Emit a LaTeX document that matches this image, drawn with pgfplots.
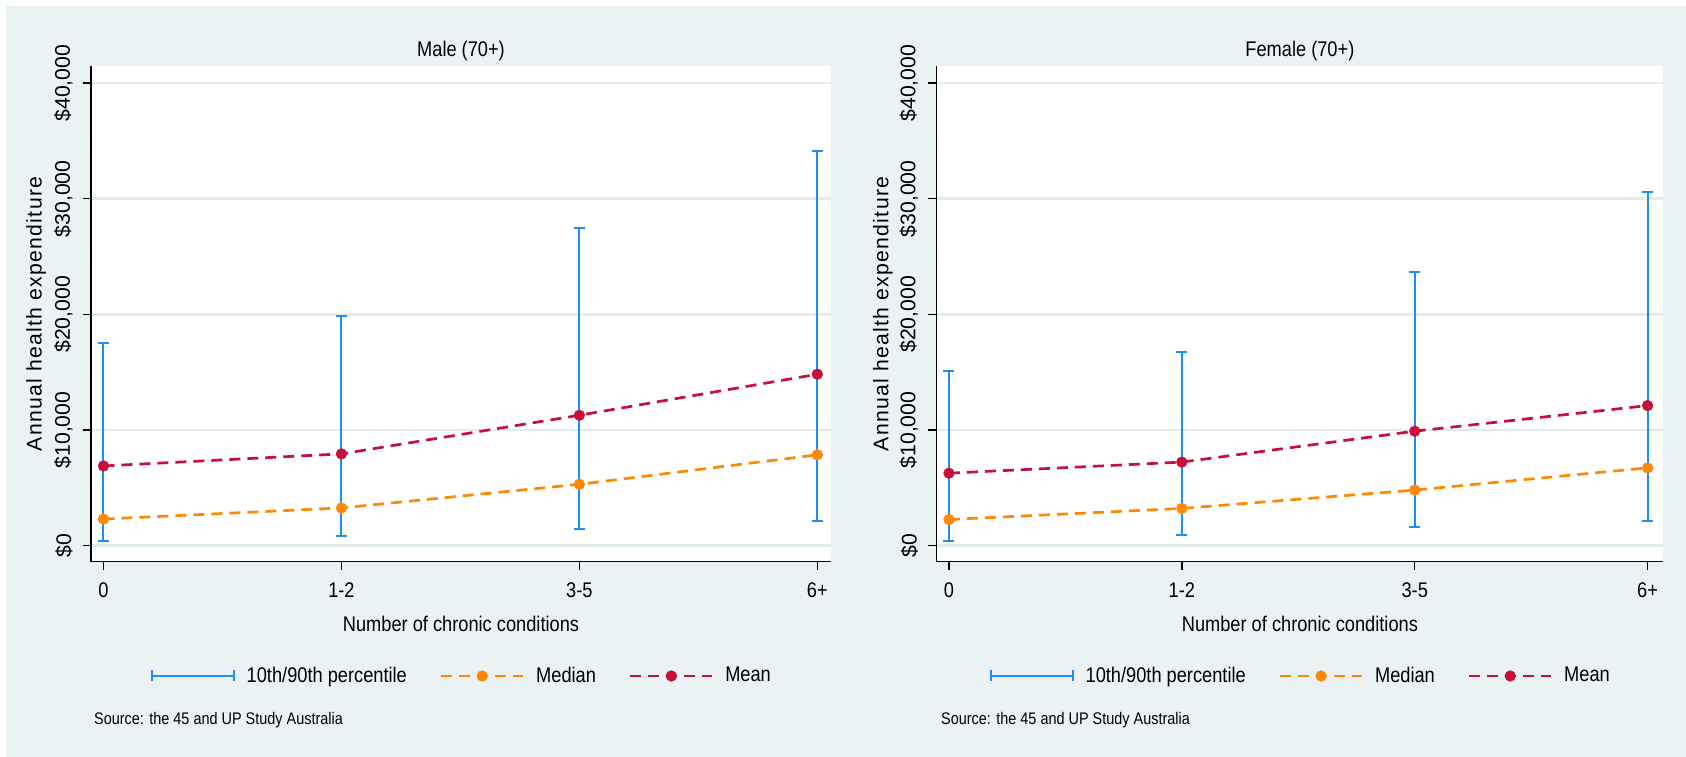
\documentclass[border=0pt]{standalone}
\usepackage{fontspec}
\setmainfont{Liberation Sans}[FakeStretch=0.86]
\newfontfamily\tickfont{Liberation Sans}
\newfontfamily\spacedfont{Liberation Sans}[LetterSpace=6]
\usepackage{pgfplots}
\pgfplotsset{compat=1.18}
\definecolor{bgc}{RGB}{234,242,243}
\definecolor{gridc}{RGB}{226,236,238}
\definecolor{bluec}{RGB}{28,142,250}
\definecolor{orangec}{RGB}{255,136,0}
\definecolor{redc}{RGB}{198,16,58}
\pgfplotsset{
  panel/.style={
    scale only axis, height=247.7bp, ymin=-1384, ymax=41462,
    axis x line*=bottom, axis y line*=left,
    axis line style={line width=0.75bp, black},
    tick align=outside, major tick length=4bp,
    tick style={line width=0.75bp, black},
    xtick={0,1,2,3}, xticklabels={0,1-2,3-5,6+},
    ytick={0,10000,20000,30000,40000}, scaled y ticks=false,
    yticklabels={\$0,{\$10,000},{\$20,000},{\$30,000},{\$40,000}},
    ymajorgrids, grid style={draw=gridc, line width=1.3bp},
    axis background/.style={fill=white},
    yticklabel style={font=\tickfont\fontsize{10.6bp}{12bp}\selectfont, xshift=-5bp, rotate=90, anchor=south, inner sep=0pt},
    xticklabel style={anchor=base, inner sep=0pt, yshift=-13.7bp},
    title style={at={(axis description cs:0.5,1)}, anchor=base, yshift=-1.1bp, inner sep=0pt},
    xlabel style={at={(axis description cs:0.5,0)}, anchor=base, yshift=-35bp, inner sep=0pt},
    ylabel style={anchor=center, inner sep=0pt, font=\spacedfont\fontsize{10.6bp}{12bp}\selectfont},
    xlabel={Number of chronic conditions},
    ylabel={Annual health expenditure},
    legend style={at={(axis description cs:0.5,-0.2309)}, anchor=center, draw=none, fill=none,
      legend columns=3, nodes={inner sep=0pt},
      /tikz/every odd column/.append style={column sep=5.8bp},
      /tikz/every even column/.append style={column sep=16.5bp}},
    clip=false,
  },
  rng/.style={draw=bluec, line width=1bp, mark=-, mark size=2.75bp, mark options={solid, line width=1bp}, forget plot},
  med/.style={draw=orangec, line width=1.35bp, dash pattern=on 5.5bp off 3.5bp, mark=*, mark size=2.7bp, mark options={solid, fill=orangec, draw=orangec, line width=0.2bp}},
  mea/.style={draw=redc, line width=1.35bp, dash pattern=on 5.5bp off 3.5bp, mark=*, mark size=2.7bp, mark options={solid, fill=redc, draw=redc, line width=0.2bp}},
}
\begin{document}
\fontsize{10.6bp}{12.7bp}\selectfont
\begin{tikzpicture}
\fill[white] (0,0) rectangle (843bp,378.5bp);
\fill[bgc] (3bp,0) rectangle (843bp,375.5bp);

\begin{axis}[panel, at={(45.5bp,97.7bp)}, anchor=south west, width=370bp,
  xmin=-0.0525, xmax=3.0576, title={Male (70+)},
  ylabel style={at={(axis description cs:-0.0740,0.5)}},
  legend image code/.code={\draw[mark repeat=2,mark phase=2,#1] plot coordinates {(0bp,0bp) (20.5bp,0bp) (41bp,0bp)};}]
\addplot[rng] coordinates {(0,420) (0,17490)};
\addplot[rng] coordinates {(1,840) (1,19830)};
\addplot[rng] coordinates {(2,1420) (2,27430)};
\addplot[rng] coordinates {(3,2170) (3,34150)};
\addlegendimage{legend image code/.code={\draw[bluec, line width=1bp] (0bp,0bp) -- (41bp,0bp); \draw[bluec, line width=1bp] (0bp,-2.75bp) -- (0bp,2.75bp) (41bp,-2.75bp) -- (41bp,2.75bp);}}
\addplot[med] coordinates {(0,2296) (1,3257) (2,5302) (3,7849)};
\addplot[mea] coordinates {(0,6889) (1,7933) (2,11272) (3,14821)};
\legend{10th/90th percentile, Median, Mean}
\node[anchor=base west, inner sep=0pt, font=\fontsize{8.4bp}{9bp}\selectfont] at ([xshift=1.4bp, yshift=-81.2bp]rel axis cs:0,0) {Source: the 45 and UP Study Australia};
\end{axis}

\begin{axis}[panel, at={(468.2bp,97.7bp)}, anchor=south west, width=363.5bp,
  xmin=-0.054, xmax=3.068, title={Female (70+)},
  ylabel style={at={(axis description cs:-0.0735,0.5)}},
  legend image code/.code={\draw[mark repeat=2,mark phase=2,#1] plot coordinates {(0bp,0bp) (20.5bp,0bp) (41bp,0bp)};}]
\addplot[rng] coordinates {(0,418) (0,15114)};
\addplot[rng] coordinates {(1,919) (1,16784)};
\addplot[rng] coordinates {(2,1587) (2,23672)};
\addplot[rng] coordinates {(3,2088) (3,30603)};
\addlegendimage{legend image code/.code={\draw[bluec, line width=1bp] (0bp,0bp) -- (41bp,0bp); \draw[bluec, line width=1bp] (0bp,-2.75bp) -- (0bp,2.75bp) (41bp,-2.75bp) -- (41bp,2.75bp);}}
\addplot[med] coordinates {(0,2255) (1,3215) (2,4801) (3,6722)};
\addplot[mea] coordinates {(0,6263) (1,7223) (2,9895) (3,12108)};
\legend{10th/90th percentile, Median, Mean}
\node[anchor=base west, inner sep=0pt, font=\fontsize{8.4bp}{9bp}\selectfont] at ([xshift=2.2bp, yshift=-81.2bp]rel axis cs:0,0) {Source: the 45 and UP Study Australia};
\end{axis}
\pgfresetboundingbox
\useasboundingbox (0,0) rectangle (843bp,378.5bp);
\end{tikzpicture}
\end{document}
